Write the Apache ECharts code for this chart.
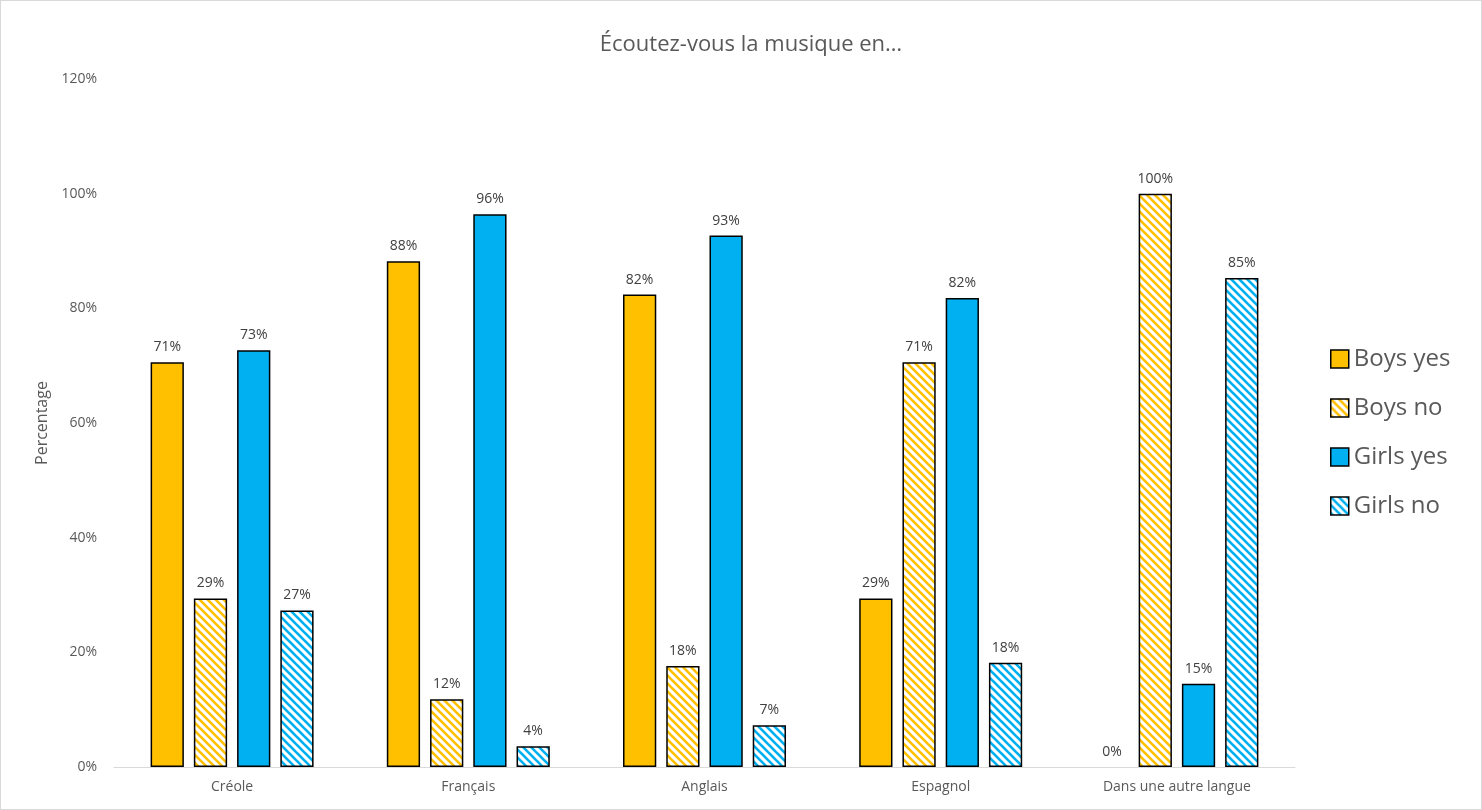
<!DOCTYPE html>
<html>
<head>
<meta charset="utf-8">
<script src="https://cdn.jsdelivr.net/npm/echarts@6/dist/echarts.min.js"></script>
<style>
html,body{margin:0;padding:0;background:#fff;}
#c{width:1480px;height:808px;border:1px solid #d9d9d9;}
</style>
</head>
<body>
<div id="c"></div>
<script>
const categories = ['Créole', 'Français', 'Anglais', 'Espagnol', 'Dans une autre langue'];
const seriesNames = ['Boys yes', 'Boys no', 'Girls yes', 'Girls no'];
const boysYes = [70.6, 88.2, 82.4, 29.4, 0];
const boysNo = [29.4, 11.8, 17.6, 70.6, 100];
const girlsYes = [72.7, 96.4, 92.7, 81.8, 14.5];
const girlsNo = [27.3, 3.6, 7.3, 18.2, 85.3];
const yTicks = [0, 20, 40, 60, 80, 100, 120];

const ORANGE = '#FFC000';
const BLUE = '#00B0F0';

function stripe(color) {
  const s = 8;
  const cv = document.createElement('canvas');
  cv.width = s; cv.height = s;
  const ctx = cv.getContext('2d');
  ctx.fillStyle = '#fff';
  ctx.fillRect(0, 0, s, s);
  ctx.strokeStyle = color;
  ctx.lineWidth = 2.6;
  for (let o = -s; o <= s; o += s) {
    ctx.beginPath();
    ctx.moveTo(o - 1, -1);
    ctx.lineTo(o + s + 1, s + 1);
    ctx.stroke();
  }
  return { image: cv, repeat: 'repeat' };
}

const fills = [ORANGE, stripe(ORANGE), BLUE, stripe(BLUE)];
const datas = [boysYes, boysNo, girlsYes, girlsNo];

const chart = echarts.init(document.getElementById('c'));
const font = '"Open Sans", "Liberation Sans", sans-serif';
chart.setOption({
  animation: false,
  textStyle: { fontFamily: font },
  title: {
    text: 'Écoutez-vous la musique en…',
    left: 745, top: 28, textAlign: 'center',
    textStyle: { fontSize: 22, fontWeight: 'normal', color: '#595959', fontFamily: font }
  },
  legend: {
    orient: 'vertical',
    left: 1324, top: 341,
    icon: 'rect',
    itemWidth: 18, itemHeight: 18, itemGap: 25,
    data: seriesNames,
    textStyle: { fontSize: 24, color: '#595959', fontFamily: font, padding: [0, 0, 0, 0] },
    itemStyle: { borderColor: '#000', borderWidth: 1.5 }
  },
  grid: { left: 113, right: 186, top: 78, bottom: 42, containLabel: false },
  xAxis: {
    type: 'category',
    data: categories,
    axisLine: { lineStyle: { color: '#d9d9d9', width: 1 } },
    axisTick: { show: false },
    axisLabel: { color: '#595959', fontSize: 14, margin: 13, fontFamily: font }
  },
  yAxis: {
    type: 'value',
    min: 0, max: 120, interval: 20,
    name: 'Percentage',
    nameLocation: 'middle',
    nameGap: 64,
    nameTextStyle: { color: '#595959', fontSize: 16, fontFamily: font },
    splitLine: { show: false },
    axisLine: { show: false },
    axisTick: { show: false },
    axisLabel: {
      color: '#595959', fontSize: 14, margin: 17, fontFamily: font,
      formatter: v => (yTicks.includes(v) ? v + '%' : '')
    }
  },
  series: seriesNames.map((n, i) => ({
    name: n,
    type: 'bar',
    data: datas[i].map(v => (v === 0 ? { value: v, itemStyle: { borderWidth: 0 } } : v)),
    barGap: '30%',
    barCategoryGap: '31%',
    itemStyle: { color: fills[i], borderColor: '#000', borderWidth: 1.5 },
    label: {
      show: true, position: 'top', distance: 8,
      color: '#404040', fontSize: 14, fontFamily: font,
      formatter: p => Math.round(p.value) + '%'
    }
  }))
});
</script>
</body>
</html>
